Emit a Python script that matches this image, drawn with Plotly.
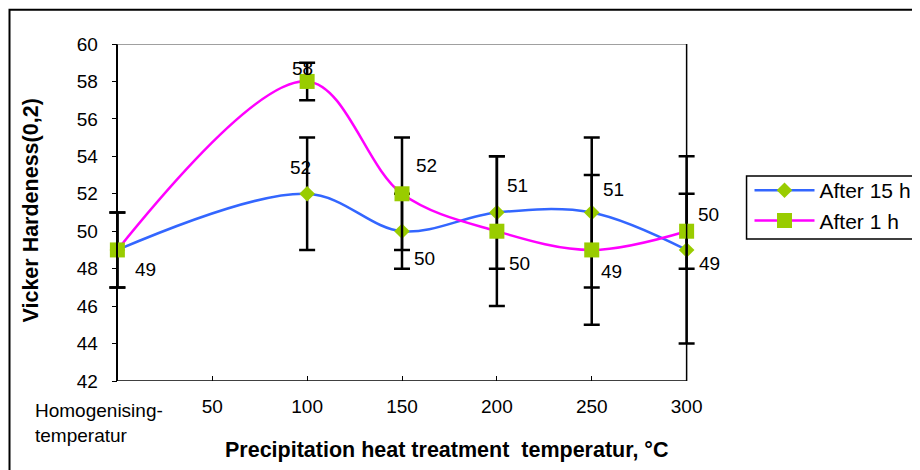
import plotly.graph_objects as go

# ---- data ----
temps_15h = [0, 100, 150, 200, 250, 300]
hard_15h = [49, 52, 50, 51, 51, 49]
err_15h = [2, 3, 2, 3, 4, 5]

temps_1h = [0, 100, 150, 200, 250, 300]
hard_1h = [49, 58, 52, 50, 49, 50]
err_1h = [2, 1, 3, 4, 4, 2]

x_tickvals = [50, 100, 150, 200, 250, 300]
x_ticktext = ["50", "100", "150", "200", "250", "300"]
first_label = "Homogenising-<br>temperatur"
y_ticks = [42, 44, 46, 48, 50, 52, 54, 56, 58, 60]
x_min, x_max = 0, 300
y_min, y_max = 42, 60

# ---- style: label offsets in px (dx, dy with dy positive = up); None = hidden (overlaps) ----
lab_off_15h = [(28, -20), (-7, 26), (22, -27), (21, 27), (22, 23), (23, -14)]
lab_off_1h = [None, (-5, 13), (24, 28), (23, -32), (20, -22), (22, 17)]

FONT = "Liberation Sans, Arial, sans-serif"
GREEN = "#99CC00"
BLUE = "#3366FF"
MAGENTA = "#FF00FF"

# the x range is padded a little so that error-bar caps at both ends are not clipped
PAD = 6
fig = go.Figure()
fig.add_trace(go.Scatter(
    x=temps_15h, y=hard_15h, name="After 15 h", mode="lines+markers", cliponaxis=False,
    line=dict(color=BLUE, width=2.5, shape="spline", smoothing=1.0),
    marker=dict(symbol="diamond", size=12, color=GREEN, line=dict(width=0)),
    error_y=dict(type="data", array=err_15h, visible=True, color="black", thickness=2.5, width=8),
))
fig.add_trace(go.Scatter(
    x=temps_1h, y=hard_1h, name="After 1 h", mode="lines+markers", cliponaxis=False,
    line=dict(color=MAGENTA, width=2.5, shape="spline", smoothing=1.0),
    marker=dict(symbol="square", size=15, color=GREEN, line=dict(width=0)),
    error_y=dict(type="data", array=err_1h, visible=True, color="black", thickness=2.5, width=8),
))

annotations = []
for xs, ys, offs in [(temps_15h, hard_15h, lab_off_15h), (temps_1h, hard_1h, lab_off_1h)]:
    for xv, yv, off in zip(xs, ys, offs):
        if off is None:
            continue
        dx, dy = off
        annotations.append(dict(x=xv, y=yv, text=str(yv), showarrow=False,
                                xshift=dx, yshift=dy, font=dict(family=FONT, size=19, color="black")))

annotations.append(dict(x=x_min, y=0, xref="x", yref="paper", text=first_label, showarrow=False,
                        xanchor="left", yanchor="top", align="left", xshift=-84, yshift=-17,
                        font=dict(family=FONT, size=19, color="black")))
annotations.append(dict(x=0.5759, y=-0.2047, xref="paper", yref="paper",
                        text="<b>Precipitation heat treatment  temperatur, °C</b>", showarrow=False,
                        xanchor="center", yanchor="middle", font=dict(family=FONT, size=21.5, color="black")))
annotations.append(dict(x=-0.1275, y=0.5045, xref="paper", yref="paper", textangle=-90,
                        text="<b>Vicker Hardeness(0,2)</b>", showarrow=False,
                        xanchor="center", yanchor="middle", font=dict(family=FONT, size=21.5, color="black")))

shapes = [
    # outer chart border
    dict(type="rect", xref="paper", yref="paper", x0=-0.163, x1=1.5, y0=-0.3, y1=1.102,
         line=dict(color="black", width=2), layer="below"),
    # legend box (runs off the right edge, as in the reference)
    dict(type="rect", xref="paper", yref="paper", x0=1.082, x1=1.6, y0=0.4214, y1=0.6083,
         line=dict(color="black", width=1.5), fillcolor="white", layer="below"),
    # top plot border (gray)
    dict(type="line", xref="x", yref="y", x0=x_min, x1=x_max, y0=y_max, y1=y_max,
         line=dict(color="#808080", width=1.5)),
    # right plot border
    dict(type="line", xref="x", yref="y", x0=x_max, x1=x_max, y0=y_min, y1=y_min + (y_max - y_min),
         line=dict(color="black", width=1.5)),
    # bottom axis line
    dict(type="line", xref="x", yref="y", x0=x_min, x1=x_max, y0=y_min, y1=y_min,
         line=dict(color="black", width=1.5)),
]

fig.update_layout(
    width=912, height=462,
    margin=dict(l=97.6, r=221.6, t=36, b=89, autoexpand=False),
    paper_bgcolor="white", plot_bgcolor="white",
    font=dict(family=FONT, size=19, color="black"),
    showlegend=True,
    legend=dict(x=1.087, y=0.626, xanchor="left", yanchor="top",
                borderwidth=0, bgcolor="rgba(0,0,0,0)",
                font=dict(family=FONT, size=21, color="black"),
                itemwidth=60, tracegroupgap=0),
    annotations=annotations,
    shapes=shapes,
    xaxis=dict(range=[x_min - PAD, x_max + PAD], tickvals=x_tickvals, ticktext=x_ticktext,
               automargin=False, showgrid=False, zeroline=False, showline=False,
               ticks="inside", ticklen=5, tickcolor="black", ticklabelstandoff=12,
               tickfont=dict(family=FONT, size=19, color="black")),
    yaxis=dict(range=[y_min, y_max], tickvals=y_ticks, showgrid=False, zeroline=False, automargin=False,
               anchor="free", position=PAD / (x_max - x_min + 2 * PAD),
               showline=True, linecolor="black", linewidth=1.5,
               ticks="outside", ticklen=5, tickcolor="black", ticklabelstandoff=10,
               tickfont=dict(family=FONT, size=19, color="black")),
)

fig.write_html("out.html")
